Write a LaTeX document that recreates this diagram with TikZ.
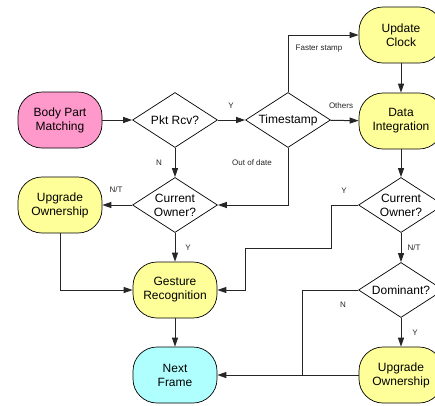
\documentclass[tikz,border=0pt]{standalone}
\usepackage{fontspec}
\setmainfont{Liberation Sans}
\usetikzlibrary{shapes.geometric,arrows.meta}
\definecolor{pinkf}{RGB}{255,153,204}
\definecolor{yelf}{RGB}{255,255,153}
\definecolor{cyanf}{RGB}{176,255,255}
\begin{document}
\begin{tikzpicture}[x=1pt,y=-1pt,
  box/.style={draw,line width=0.7pt,rounded corners=24pt,minimum width=84pt,minimum height=56pt,inner sep=0pt,align=center,font=\fontsize{12}{14}\selectfont},
  dia/.style={draw,line width=0.7pt,diamond,aspect=1.55,minimum width=85pt,minimum height=55pt,inner sep=0pt,align=center,font=\fontsize{12}{14}\selectfont,fill=white},
  arr/.style={-{Triangle[length=9pt,width=6pt]},line width=1pt,draw=black!85},
  ln/.style={line width=1pt,draw=black!85},
  lbl/.style={font=\fontsize{8}{9}\selectfont,text=black!85,inner sep=0pt}]
\useasboundingbox (0,0) rectangle (435,405);
\clip (0,0) rectangle (435,405);
\fill[white] (0,0) rectangle (435,405);
% nodes
\node[box,fill=pinkf] (bpm) at (60,120) {Body Part\\Matching};
\node[dia] (pkt) at (175,120) {Pkt Rcv?};
\node[dia] (ts) at (288,120) {Timestamp};
\node[box,fill=yelf] (uc) at (401,35) {Update\\Clock};
\node[box,fill=yelf] (di) at (401,121) {Data\\Integration};
\node[dia] (coL) at (175,205) {Current\\Owner?};
\node[box,fill=yelf] (uoL) at (60,205) {Upgrade\\Ownership};
\node[dia] (coR) at (401,205) {Current\\Owner?};
\node[box,fill=yelf] (gr) at (175,290) {Gesture\\Recognition};
\node[dia] (dom) at (401,290) {Dominant?};
\node[box,fill=cyanf] (nf) at (175,375) {Next\\Frame};
\node[box,fill=yelf] (uoR) at (401,375) {Upgrade\\Ownership};
% connectors
\draw[arr] (bpm) -- (pkt);
\draw[arr] (pkt) -- (ts);
\draw[arr] (ts) -- (di);
\draw[arr] (ts.north) |- (uc.west);
\draw[arr] (uc) -- (di);
\draw[arr] (ts.south) |- (coL.east);
\draw[arr] (pkt) -- (coL);
\draw[arr] (coL) -- (uoL);
\draw[arr] (coL) -- (gr);
\draw[arr] (uoL.south) |- (gr.west);
\draw[arr] (di) -- (coR);
\draw[arr] (coR.west) -| (331,248) -| (245,290) -- (gr.east);
\draw[arr] (coR) -- (dom);
\draw[arr] (dom) -- (uoR);
\draw[ln] (dom.west) -| (302,375);
\draw[arr] (uoR) -- (nf);
\draw[arr] (gr) -- (nf);
% labels
\node[lbl] (l1) at (231,106) {Y};
\node[lbl] (l2) at (341,106) {Others};
\node[lbl] (l3) at (319,49) {Faster stamp};
\node[lbl] (l4) at (252,163) {Out of date};
\node[lbl] (l5) at (159,163) {N};
\node[lbl] (l6) at (116,190) {N/T};
\node[lbl] (l7) at (188,248) {Y};
\node[lbl] (l8) at (344,191) {Y};
\node[lbl] (l9) at (414,248) {N/T};
\node[lbl] (l10) at (343,305) {N};
\node[lbl] (l11) at (415,333) {Y};
\end{tikzpicture}
\end{document}
